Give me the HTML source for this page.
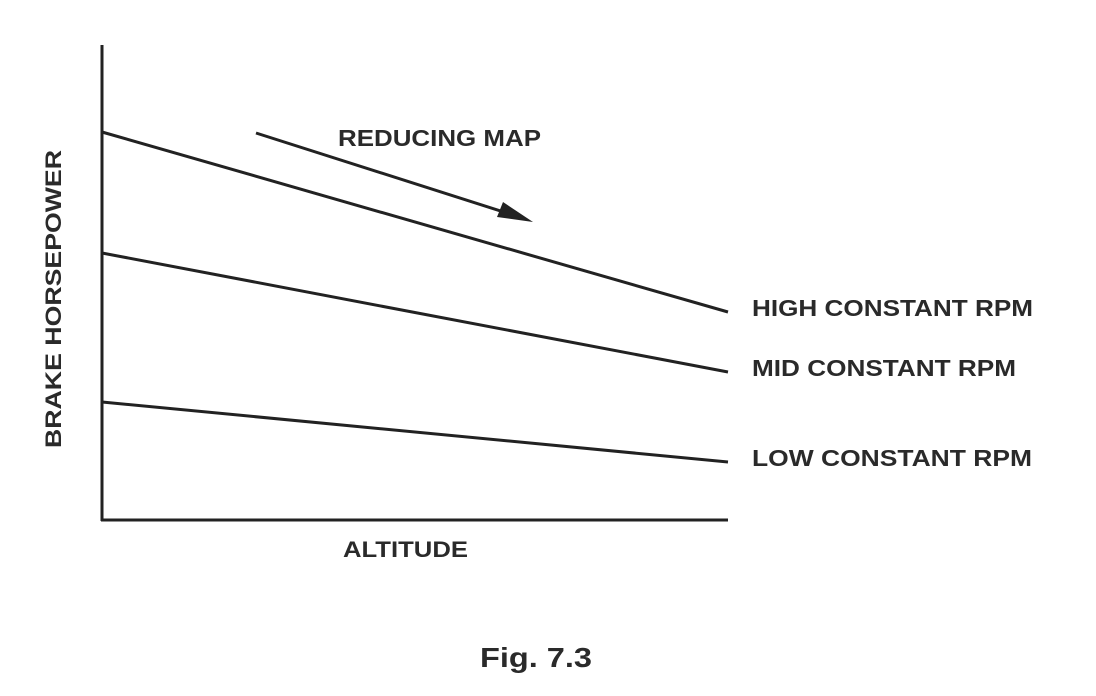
<!DOCTYPE html>
<html><head><style>
html,body{margin:0;padding:0;background:#fff;}
svg{display:block;}
text{font-family:"Liberation Sans",Arial,sans-serif;font-weight:bold;fill:#2a2a2a;}
</style></head><body>
<svg width="1096" height="696" viewBox="0 0 1096 696">
<g stroke="#222" stroke-width="3" fill="none">
<line x1="102" y1="45" x2="102" y2="521"/>
<line x1="101" y1="520" x2="728" y2="520"/>
<line x1="102" y1="132" x2="728" y2="312"/>
<line x1="102" y1="253" x2="728" y2="372"/>
<line x1="102" y1="402" x2="728" y2="462"/>
<line x1="256" y1="133" x2="510" y2="214"/>
</g>
<polygon points="533,222 497,217 503,202" fill="#222"/>
<text x="338" y="146" font-size="23" textLength="203" lengthAdjust="spacingAndGlyphs">REDUCING MAP</text>
<text x="752" y="316" font-size="23" textLength="281" lengthAdjust="spacingAndGlyphs">HIGH CONSTANT RPM</text>
<text x="752" y="376" font-size="23" textLength="264" lengthAdjust="spacingAndGlyphs">MID CONSTANT RPM</text>
<text x="752" y="466" font-size="23" textLength="280" lengthAdjust="spacingAndGlyphs">LOW CONSTANT RPM</text>
<text x="343" y="557" font-size="22" textLength="125" lengthAdjust="spacingAndGlyphs">ALTITUDE</text>
<text transform="translate(61,448) rotate(-90)" font-size="22" textLength="298" lengthAdjust="spacingAndGlyphs">BRAKE HORSEPOWER</text>
<text x="480" y="667" font-size="28" textLength="112" lengthAdjust="spacingAndGlyphs">Fig. 7.3</text>
</svg>
</body></html>
